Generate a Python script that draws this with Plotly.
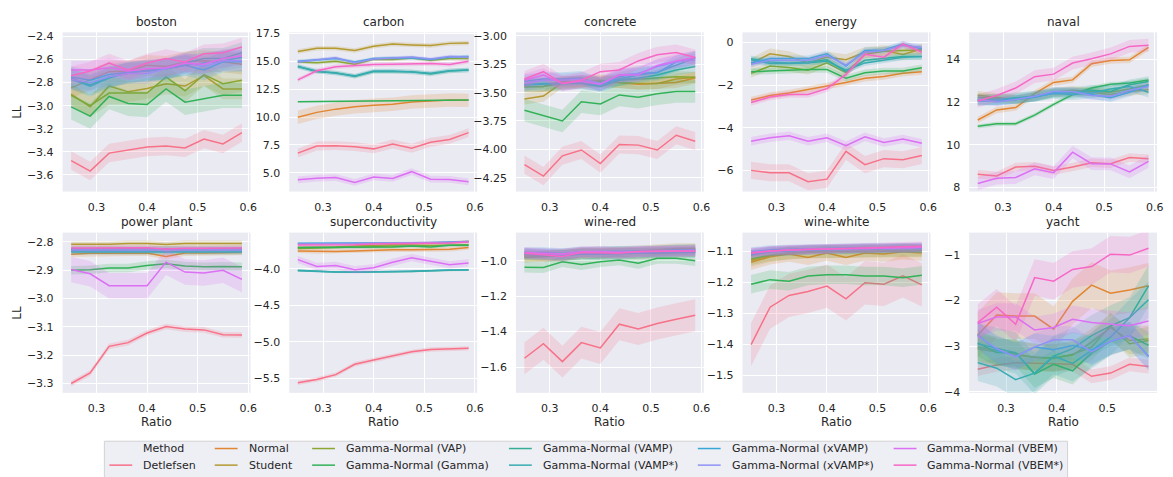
import math
import plotly.graph_objects as go

# ---------------- data ----------------
METHODS = ["Detlefsen", "Normal", "Student", "Gamma-Normal (VAP)", "Gamma-Normal (Gamma)",
           "Gamma-Normal (VAMP)", "Gamma-Normal (VAMP*)", "Gamma-Normal (xVAMP)",
           "Gamma-Normal (xVAMP*)", "Gamma-Normal (VBEM)", "Gamma-Normal (VBEM*)"]
DATASETS = ["boston", "carbon", "concrete", "energy", "naval",
            "power plant", "superconductivity", "wine-red", "wine-white", "yacht"]
RATIO = [0.25, 0.2875, 0.325, 0.3625, 0.4, 0.4375, 0.475, 0.5125, 0.55, 0.5875]
RATIO_YACHT = [0.244, 0.2815, 0.319, 0.3565, 0.394, 0.4315, 0.469, 0.5065, 0.544, 0.5815]

boston_ll = [
    [-3.476, -3.567, -3.411, -3.386, -3.358, -3.349, -3.366, -3.290, -3.332, -3.233],
    [-2.846, -2.776, -2.705, -2.700, -2.650, -2.660, -2.620, -2.610, -2.620, -2.640],
    [-2.900, -3.010, -2.830, -2.880, -2.850, -2.810, -2.830, -2.740, -2.855, -2.855],
    [-2.910, -3.000, -2.890, -2.890, -2.890, -2.750, -2.870, -2.730, -2.810, -2.780],
    [-3.010, -3.090, -2.920, -2.980, -2.990, -2.855, -2.970, -2.940, -2.910, -2.910],
    [-2.760, -2.820, -2.750, -2.720, -2.690, -2.680, -2.630, -2.590, -2.590, -2.540],
    [-2.770, -2.830, -2.760, -2.710, -2.700, -2.680, -2.650, -2.630, -2.610, -2.580],
    [-2.750, -2.780, -2.730, -2.710, -2.700, -2.680, -2.650, -2.690, -2.620, -2.620],
    [-2.770, -2.800, -2.750, -2.720, -2.720, -2.680, -2.630, -2.660, -2.610, -2.610],
    [-2.690, -2.690, -2.670, -2.700, -2.680, -2.670, -2.630, -2.640, -2.590, -2.570],
    [-2.740, -2.700, -2.630, -2.690, -2.630, -2.590, -2.620, -2.550, -2.540, -2.490],
]
boston_band = [0.08, 0.09, 0.09, 0.10, 0.11, 0.09, 0.09, 0.09, 0.09, 0.08, 0.08]

carbon_ll = [
    [6.76, 7.40, 7.43, 7.34, 7.14, 7.58, 7.20, 7.73, 7.99, 8.60],
    [9.98, 10.42, 10.71, 10.92, 11.06, 11.15, 11.35, 11.44, 11.53, 11.50],
    [15.89, 16.18, 16.18, 15.98, 16.36, 16.56, 16.48, 16.42, 16.62, 16.65],
    [14.95, 14.87, 15.01, 14.75, 15.19, 15.16, 15.31, 15.10, 15.25, 15.25],
    [11.38, 11.40, 11.40, 11.43, 11.45, 11.45, 11.48, 11.48, 11.50, 11.52],
    [14.57, 14.08, 13.99, 13.64, 14.08, 14.08, 14.08, 13.87, 14.13, 14.22],
    [14.51, 14.13, 13.93, 13.70, 14.13, 14.13, 14.05, 13.93, 14.16, 14.22],
    [15.01, 15.10, 15.25, 14.95, 15.25, 15.31, 15.31, 15.16, 15.39, 15.45],
    [14.95, 15.16, 15.33, 14.87, 15.22, 15.31, 15.39, 15.22, 15.45, 15.39],
    [4.36, 4.51, 4.56, 4.13, 4.62, 4.48, 5.09, 4.42, 4.39, 4.18],
    [13.34, 14.16, 14.51, 14.63, 14.72, 14.75, 14.81, 14.81, 14.72, 15.01],
]
carbon_band = [0.40, 0.60, 0.20, 0.15, 0.05, 0.20, 0.20, 0.15, 0.15, 0.30, 0.20]

concrete_ll = [
    [-4.135, -4.236, -4.057, -4.006, -4.126, -3.957, -3.963, -4.006, -3.876, -3.928],
    [-3.445, -3.445, -3.400, -3.410, -3.410, -3.410, -3.425, -3.420, -3.410, -3.370],
    [-3.555, -3.530, -3.410, -3.400, -3.390, -3.410, -3.420, -3.420, -3.380, -3.365],
    [-3.450, -3.445, -3.420, -3.400, -3.400, -3.390, -3.380, -3.370, -3.360, -3.365],
    [-3.655, -3.700, -3.750, -3.580, -3.600, -3.520, -3.540, -3.510, -3.490, -3.490],
    [-3.430, -3.420, -3.420, -3.420, -3.445, -3.390, -3.370, -3.345, -3.300, -3.270],
    [-3.430, -3.425, -3.420, -3.405, -3.430, -3.380, -3.345, -3.320, -3.260, -3.195],
    [-3.400, -3.380, -3.380, -3.370, -3.430, -3.360, -3.330, -3.325, -3.230, -3.190],
    [-3.420, -3.390, -3.390, -3.380, -3.420, -3.345, -3.330, -3.270, -3.230, -3.215],
    [-3.390, -3.345, -3.420, -3.400, -3.425, -3.345, -3.345, -3.260, -3.220, -3.190],
    [-3.380, -3.315, -3.420, -3.390, -3.315, -3.300, -3.220, -3.165, -3.145, -3.190],
]
concrete_band = [0.08, 0.05, 0.05, 0.05, 0.10, 0.05, 0.06, 0.06, 0.06, 0.06, 0.07]

energy_ll = [
    [-6.00, -6.11, -6.11, -6.53, -6.41, -5.11, -5.73, -5.45, -5.50, -5.30],
    [-2.70, -2.49, -2.37, -2.21, -2.06, -1.88, -1.68, -1.60, -1.45, -1.37],
    [-0.99, -0.53, -0.66, -0.96, -0.69, -0.81, -0.46, -0.38, -0.56, -0.31],
    [-1.45, -1.11, -1.18, -1.30, -0.96, -1.42, -0.56, -0.41, -0.38, -0.35],
    [-1.37, -1.33, -1.30, -1.27, -1.27, -1.68, -1.42, -1.34, -1.34, -1.19],
    [-0.76, -0.92, -0.96, -0.92, -0.81, -1.37, -0.84, -0.76, -0.66, -0.66],
    [-0.81, -0.99, -0.99, -0.96, -0.87, -1.30, -0.96, -0.84, -0.69, -0.66],
    [-0.96, -0.76, -0.76, -0.76, -0.53, -1.11, -0.38, -0.35, -0.08, -0.31],
    [-1.02, -0.84, -0.84, -0.84, -0.61, -1.07, -0.46, -0.38, -0.15, -0.23],
    [-4.63, -4.47, -4.38, -4.63, -4.47, -4.84, -4.43, -4.69, -4.53, -4.73],
    [-2.82, -2.56, -2.44, -2.44, -2.17, -1.50, -0.56, -0.69, -0.08, -0.46],
]
energy_band = [0.40, 0.15, 0.25, 0.20, 0.15, 0.15, 0.15, 0.15, 0.15, 0.20, 0.15]

naval_ll = [
    [8.61, 8.53, 8.95, 8.99, 8.79, 8.95, 9.15, 9.11, 9.40, 9.34],
    [11.16, 11.63, 11.74, 12.40, 12.92, 13.04, 13.80, 13.95, 13.98, 14.56],
    [12.32, 12.23, 12.12, 12.27, 12.46, 12.55, 12.46, 12.35, 12.50, 12.58],
    [12.23, 12.15, 12.12, 12.24, 12.43, 12.46, 12.50, 12.46, 12.61, 12.81],
    [10.86, 10.98, 10.98, 11.39, 11.89, 12.35, 12.66, 12.84, 12.89, 13.04],
    [12.12, 12.12, 12.20, 12.27, 12.46, 12.43, 12.55, 12.50, 12.81, 12.96],
    [12.08, 12.12, 12.15, 12.27, 12.40, 12.35, 12.43, 12.61, 12.73, 12.46],
    [12.05, 12.05, 12.12, 12.23, 12.43, 12.50, 12.35, 12.20, 12.46, 12.81],
    [12.12, 12.00, 12.12, 12.27, 12.50, 12.50, 12.31, 12.27, 12.55, 12.73],
    [8.18, 8.43, 8.46, 8.87, 8.69, 9.65, 9.11, 9.10, 8.72, 9.22],
    [12.05, 12.31, 12.66, 13.19, 13.31, 13.83, 14.03, 14.26, 14.61, 14.67],
]
naval_band = [0.20, 0.15, 0.20, 0.20, 0.10, 0.25, 0.25, 0.20, 0.20, 0.30, 0.30]

power_ll = [
    [-3.300, -3.263, -3.169, -3.156, -3.122, -3.099, -3.108, -3.111, -3.128, -3.129],
    [-2.844, -2.841, -2.841, -2.840, -2.840, -2.852, -2.840, -2.840, -2.838, -2.838],
    [-2.809, -2.809, -2.809, -2.806, -2.806, -2.810, -2.806, -2.806, -2.806, -2.806],
    [-2.826, -2.826, -2.824, -2.824, -2.824, -2.826, -2.824, -2.824, -2.824, -2.824],
    [-2.901, -2.899, -2.893, -2.893, -2.884, -2.878, -2.886, -2.888, -2.887, -2.888],
    [-2.832, -2.832, -2.832, -2.832, -2.832, -2.835, -2.832, -2.832, -2.832, -2.832],
    [-2.836, -2.836, -2.836, -2.836, -2.836, -2.838, -2.836, -2.836, -2.836, -2.836],
    [-2.826, -2.826, -2.826, -2.826, -2.826, -2.828, -2.826, -2.826, -2.826, -2.826],
    [-2.829, -2.829, -2.829, -2.829, -2.829, -2.831, -2.829, -2.829, -2.829, -2.829],
    [-2.898, -2.913, -2.955, -2.955, -2.955, -2.872, -2.907, -2.910, -2.901, -2.933],
    [-2.822, -2.822, -2.822, -2.821, -2.821, -2.826, -2.823, -2.823, -2.822, -2.822],
]
power_band = [0.010, 0.010, 0.010, 0.010, 0.015, 0.010, 0.010, 0.010, 0.010, 0.045, 0.010]

supercond_ll = [
    [-5.563, -5.518, -5.451, -5.308, -5.250, -5.192, -5.138, -5.107, -5.094, -5.090],
    [-3.755, -3.763, -3.763, -3.755, -3.746, -3.741, -3.741, -3.741, -3.732, -3.710],
    [-3.710, -3.710, -3.701, -3.688, -3.679, -3.674, -3.665, -3.656, -3.643, -3.625],
    [-3.723, -3.714, -3.710, -3.701, -3.696, -3.688, -3.688, -3.679, -3.674, -3.670],
    [-3.710, -3.710, -3.710, -3.701, -3.701, -3.701, -3.688, -3.701, -3.679, -3.679],
    [-4.022, -4.036, -4.045, -4.045, -4.045, -4.045, -4.036, -4.027, -4.018, -4.013],
    [-4.027, -4.040, -4.045, -4.049, -4.045, -4.045, -4.040, -4.027, -4.018, -4.018],
    [-3.652, -3.652, -3.652, -3.652, -3.647, -3.647, -3.643, -3.643, -3.634, -3.625],
    [-3.661, -3.661, -3.656, -3.656, -3.652, -3.647, -3.647, -3.643, -3.638, -3.629],
    [-3.875, -3.969, -3.955, -4.013, -3.987, -3.911, -3.848, -3.902, -3.946, -3.920],
    [-3.674, -3.674, -3.670, -3.670, -3.661, -3.656, -3.656, -3.656, -3.647, -3.634],
]
supercond_band = [0.03, 0.03, 0.02, 0.02, 0.02, 0.012, 0.012, 0.012, 0.012, 0.05, 0.02]

winered_ll = [
    [-1.550, -1.468, -1.569, -1.462, -1.492, -1.358, -1.385, -1.354, -1.330, -1.308],
    [-0.969, -0.976, -0.969, -0.960, -0.958, -0.958, -0.960, -0.958, -0.954, -0.950],
    [-0.976, -0.972, -0.963, -0.954, -0.950, -0.950, -0.945, -0.939, -0.932, -0.932],
    [-0.982, -0.976, -0.972, -0.960, -0.958, -0.950, -0.954, -0.945, -0.939, -0.936],
    [-1.037, -1.039, -1.006, -1.022, -1.006, -0.996, -1.015, -0.987, -0.987, -1.000],
    [-0.963, -0.969, -0.969, -0.960, -0.963, -0.960, -0.954, -0.954, -0.950, -0.950],
    [-0.960, -0.963, -0.972, -0.963, -0.963, -0.960, -0.960, -0.954, -0.954, -0.954],
    [-0.954, -0.954, -0.960, -0.950, -0.949, -0.949, -0.945, -0.945, -0.939, -0.939],
    [-0.960, -0.960, -0.963, -0.954, -0.954, -0.954, -0.950, -0.949, -0.945, -0.941],
    [-0.954, -0.958, -0.963, -0.950, -0.949, -0.954, -0.949, -0.945, -0.945, -0.945],
    [-0.958, -0.969, -0.976, -0.954, -0.954, -0.958, -0.949, -0.949, -0.945, -0.945],
]
winered_band = [0.09, 0.03, 0.03, 0.03, 0.03, 0.03, 0.03, 0.03, 0.03, 0.03, 0.03]

winewhite_ll = [
    [-1.401, -1.280, -1.242, -1.229, -1.212, -1.253, -1.201, -1.206, -1.179, -1.208],
    [-1.135, -1.117, -1.108, -1.119, -1.105, -1.119, -1.105, -1.108, -1.101, -1.105],
    [-1.129, -1.114, -1.106, -1.103, -1.101, -1.101, -1.100, -1.098, -1.098, -1.098],
    [-1.124, -1.111, -1.105, -1.101, -1.100, -1.100, -1.098, -1.098, -1.096, -1.096],
    [-1.206, -1.191, -1.196, -1.179, -1.175, -1.175, -1.179, -1.179, -1.185, -1.177],
    [-1.108, -1.100, -1.098, -1.095, -1.093, -1.093, -1.090, -1.091, -1.089, -1.090],
    [-1.111, -1.101, -1.099, -1.095, -1.095, -1.093, -1.093, -1.091, -1.090, -1.090],
    [-1.101, -1.095, -1.093, -1.091, -1.090, -1.089, -1.088, -1.088, -1.087, -1.087],
    [-1.105, -1.098, -1.095, -1.093, -1.091, -1.091, -1.090, -1.089, -1.088, -1.088],
    [-1.103, -1.098, -1.095, -1.093, -1.093, -1.091, -1.090, -1.090, -1.088, -1.086],
    [-1.106, -1.098, -1.095, -1.093, -1.091, -1.089, -1.088, -1.086, -1.084, -1.083],
]
winewhite_band = [0.07, 0.025, 0.02, 0.02, 0.03, 0.015, 0.015, 0.015, 0.015, 0.015, 0.015]

yacht_ll = [
    [-3.507, -3.414, -3.364, -3.379, -3.400, -3.400, -3.664, -3.593, -3.400, -3.450],
    [-2.757, -2.321, -2.343, -2.343, -2.629, -2.021, -1.664, -1.843, -1.771, -1.679],
    [-3.057, -3.129, -3.164, -3.257, -3.257, -3.200, -2.914, -2.593, -2.879, -2.843],
    [-3.021, -3.093, -3.200, -3.236, -3.271, -3.179, -3.021, -2.557, -2.950, -2.879],
    [-2.929, -3.143, -3.143, -3.614, -3.400, -3.543, -3.150, -2.900, -2.771, -2.986],
    [-2.950, -3.057, -3.150, -3.607, -3.221, -3.057, -2.771, -2.557, -2.379, -1.679],
    [-3.364, -3.486, -3.736, -3.593, -3.221, -3.379, -3.093, -2.807, -2.379, -1.986],
    [-2.757, -3.093, -3.221, -3.021, -3.079, -2.986, -3.093, -2.893, -2.771, -3.221],
    [-2.771, -3.057, -3.236, -3.021, -2.864, -2.864, -3.129, -2.893, -2.771, -3.236],
    [-2.507, -2.364, -2.364, -2.650, -2.593, -2.414, -2.486, -2.521, -2.557, -2.450],
    [-2.486, -2.150, -2.521, -1.500, -1.579, -1.321, -1.257, -0.986, -1.007, -0.857],
]
yacht_band = [0.15, 0.50, 0.30, 0.30, 0.30, 0.45, 0.40, 0.30, 0.30, 0.30, 0.40]

ALL_LL = [boston_ll, carbon_ll, concrete_ll, energy_ll, naval_ll,
          power_ll, supercond_ll, winered_ll, winewhite_ll, yacht_ll]
ALL_BAND = [boston_band, carbon_band, concrete_band, energy_band, naval_band,
            power_band, supercond_band, winered_band, winewhite_band, yacht_band]

Y_RANGES = [(-3.745, -2.364), (3.30, 17.61), (-4.373, -2.968), (-6.995, 0.472), (7.80, 15.27),
            (-3.333, -2.768), (-5.70, -3.505), (-1.745, -0.842), (-1.557, -1.039), (-4.026, -0.514)]
Y_TICKS = [[-3.6, -3.4, -3.2, -3.0, -2.8, -2.6, -2.4],
           [5.0, 7.5, 10.0, 12.5, 15.0, 17.5],
           [-4.25, -4.0, -3.75, -3.5, -3.25, -3.0],
           [-6, -4, -2, 0],
           [8, 10, 12, 14],
           [-3.3, -3.2, -3.1, -3.0, -2.9, -2.8],
           [-5.5, -5.0, -4.5, -4.0],
           [-1.6, -1.4, -1.2, -1.0],
           [-1.5, -1.4, -1.3, -1.2, -1.1],
           [-4, -3, -2, -1]]
Y_FORMATS = [".1f", ".1f", ".2f", "d", "d", ".1f", ".1f", ".1f", ".1f", "d"]
X_TICKS = [0.3, 0.4, 0.5, 0.6]


# ---------------- colours (seaborn husl palette) ----------------
def husl_to_rgb(h, s, l):
    m = [[3.2409699419045214, -1.5373831775700935, -0.49861076029300328],
         [-0.96924363628087983, 1.8759675015077207, 0.041555057407175613],
         [0.055630079696993609, -0.20397695888897657, 1.0569715142428786]]
    refU, refV = 0.19783000664283681, 0.468319994938791
    kappa, epsilon = 903.2962962962963, 0.0088564516790356308
    hrad = math.radians(h)
    sinH, cosH = math.sin(hrad), math.cos(hrad)
    sub1 = (l + 16) ** 3 / 1560896.0
    sub2 = sub1 if sub1 > epsilon else l / kappa
    mx = float("inf")
    for m1, m2, m3 in m:
        top = (0.99915 * m1 + 1.05122 * m2 + 1.14460 * m3) * sub2
        rbottom = 0.86330 * m3 - 0.17266 * m2
        lbottom = 0.12949 * m3 - 0.38848 * m1
        bottom = (rbottom * sinH + lbottom * cosH) * sub2
        for t in (0.0, 1.0):
            C = l * (top - 1.05122 * t) / (bottom + 0.17266 * sinH * t)
            if 0 < C < mx:
                mx = C
    C = mx / 100.0 * s
    U, V = math.cos(hrad) * C, math.sin(hrad) * C
    Y = ((l + 16) / 116.0) ** 3 if l > 8 else l / kappa
    varU = U / (13.0 * l) + refU
    varV = V / (13.0 * l) + refV
    X = 0.0 - (9.0 * Y * varU) / ((varU - 4.0) * varV - varU * varV)
    Z = (9.0 * Y - (15.0 * varV * Y) - (varV * X)) / (3.0 * varV)

    def fl(c):
        return 12.92 * c if c <= 0.0031308 else 1.055 * c ** (1 / 2.4) - 0.055
    return tuple(min(1.0, max(0.0, fl(r[0] * X + r[1] * Y + r[2] * Z))) for r in m)


n = len(METHODS)
COLORS = []
for i in range(n):
    hh = ((i / n + 0.01) % 1) * 359
    r, g, b = husl_to_rgb(hh, 0.9 * 99, 0.65 * 99)
    COLORS.append((round(r * 255), round(g * 255), round(b * 255)))


def rgb(c, a=None):
    if a is None:
        return "rgb(%d,%d,%d)" % c
    return "rgba(%d,%d,%d,%.3f)" % (c[0], c[1], c[2], a)


# ---------------- layout geometry (pixels) ----------------
W, H = 1173, 477
COL_L = [63, 291, 519, 747, 975]
PW = 189
ROWS = [(28, 191), (233, 397)]
TEXT = "#262626"
FONT = "DejaVu Sans"

fig = go.Figure()
layout = dict(width=W, height=H, margin=dict(l=0, r=0, t=0, b=0), autosize=False,
              paper_bgcolor="white", plot_bgcolor="#eaeaf2", showlegend=False,
              font=dict(family=FONT, color=TEXT, size=11))
annotations = []
shapes = []

for k, name in enumerate(DATASETS):
    row, col = divmod(k, 5)
    sfx = "" if k == 0 else str(k + 1)
    xs = RATIO_YACHT if name == "yacht" else RATIO
    x0 = COL_L[col]
    top, bot = ROWS[row]
    x_off = 0.006 if name == "yacht" else 0.0
    layout["xaxis" + sfx] = dict(
        domain=[x0 / W, (x0 + PW) / W], anchor="y" + sfx,
        range=[0.2331 - x_off, 0.6044 - x_off], tickvals=X_TICKS, tickformat=".1f",
        showgrid=True, gridcolor="white", gridwidth=1, zeroline=False, showline=False,
        ticks="", ticklabelstandoff=7, tickfont=dict(size=11, color=TEXT, family=FONT))
    layout["yaxis" + sfx] = dict(
        domain=[1 - bot / H, 1 - top / H], anchor="x" + sfx,
        range=list(Y_RANGES[k]), tickvals=Y_TICKS[k], tickformat=Y_FORMATS[k],
        showgrid=True, gridcolor="white", gridwidth=1, zeroline=False, showline=False,
        ticks="", ticklabelstandoff=8, tickfont=dict(size=11, color=TEXT, family=FONT))

    for j in range(n):
        ys = ALL_LL[k][j]
        bw = ALL_BAND[k][j]
        up = [v + bw for v in ys]
        lo = [v - bw for v in ys]
        fig.add_trace(go.Scatter(
            x=list(xs) + list(xs)[::-1], y=up + lo[::-1], fill="toself",
            fillcolor=rgb(COLORS[j], 0.2), line=dict(width=0), mode="lines",
            hoverinfo="skip", xaxis="x" + sfx, yaxis="y" + sfx))
        fig.add_trace(go.Scatter(
            x=xs, y=ys, mode="lines", name=METHODS[j],
            line=dict(color=rgb(COLORS[j]), width=1.5),
            xaxis="x" + sfx, yaxis="y" + sfx))

    # subplot title
    annotations.append(dict(text=name, x=(x0 + PW / 2) / W, y=1 - (top - 11) / H,
                            xref="paper", yref="paper", showarrow=False,
                            xanchor="center", yanchor="middle",
                            font=dict(size=12, color=TEXT, family=FONT)))
    if row == 1:
        annotations.append(dict(text="Ratio", x=(x0 + PW / 2) / W, y=1 - 427 / H,
                                xref="paper", yref="paper", showarrow=False,
                                xanchor="center", yanchor="middle",
                                font=dict(size=12, color=TEXT, family=FONT)))
    if col == 0:
        annotations.append(dict(text="LL", x=17 / W, y=1 - (top + bot) / 2 / H,
                                xref="paper", yref="paper", showarrow=False, textangle=-90,
                                xanchor="center", yanchor="middle",
                                font=dict(size=12, color=TEXT, family=FONT)))

# ---------------- legend (drawn manually, column-major like matplotlib) ----------------
shapes.append(dict(type="rect", xref="paper", yref="paper",
                   x0=105 / W, x1=1074 / W, y0=1 - 490 / H, y1=1 - 446.5 / H,
                   fillcolor="rgba(238,238,245,1)", line=dict(color="#d2d2d2", width=1),
                   layer="above"))
LEG_TEXT_X = [142, 248, 346, 544, 734, 931]
LEG_ROW_Y = [454, 471]
entries = [None] + list(range(n))
for idx, ent in enumerate(entries):
    c, r = divmod(idx, 2)
    tx = LEG_TEXT_X[c]
    ty = LEG_ROW_Y[r]
    label = "Method" if ent is None else METHODS[ent]
    annotations.append(dict(text=label, x=tx / W, y=1 - ty / H, xref="paper", yref="paper",
                            showarrow=False, xanchor="left", yanchor="middle",
                            font=dict(size=11, color=TEXT, family=FONT)))
    if ent is not None:
        shapes.append(dict(type="line", xref="paper", yref="paper",
                           x0=(tx - 32) / W, x1=(tx - 9) / W, y0=1 - ty / H, y1=1 - ty / H,
                           line=dict(color=rgb(COLORS[ent]), width=1.5), layer="above"))

layout["annotations"] = annotations
layout["shapes"] = shapes
fig.update_layout(**layout)
fig.write_html("out.html")
